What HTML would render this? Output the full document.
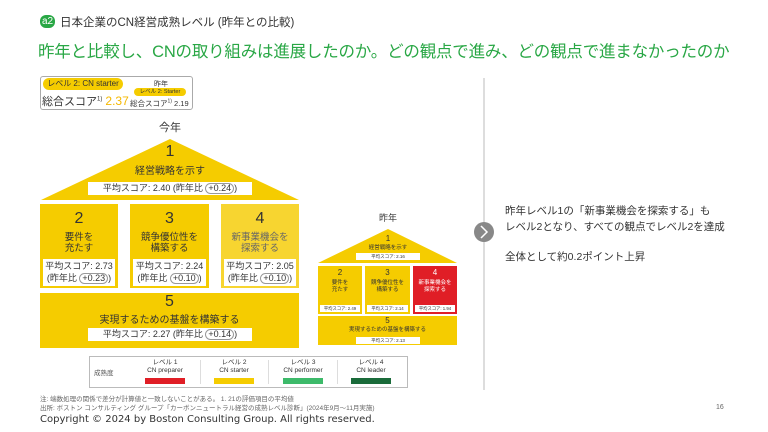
<!DOCTYPE html>
<html><head><meta charset="utf-8"><style>
*{margin:0;padding:0;box-sizing:border-box}
body{width:768px;height:432px;background:#fff;position:relative;overflow:hidden;font-family:"Liberation Sans","Noto Sans CJK JP",sans-serif;color:#333}
.a{position:absolute}
.y{background:#f5cc00}
.c{text-align:center}
.wb{background:#fff;position:absolute;text-align:center;color:#333}
.pill{display:inline-block;border:1px solid #999;border-radius:6px;padding:0 2px;font-size:inherit;line-height:1}
</style></head><body>
<div class="a" style="left:40px;top:15px;width:15px;height:13px;border-radius:6px;background:#29a745;color:#fff;font-size:10px;line-height:13px;text-align:center">a2</div>
<div class="a" style="left:60px;top:14px;font-size:11.5px;color:#333">日本企業のCN経営成熟レベル (昨年との比較)</div>
<div class="a" style="left:38px;top:38px;font-size:16.5px;color:#29a745;white-space:nowrap;letter-spacing:-0.2px">昨年と比較し、CNの取り組みは進展したのか。どの観点で進み、どの観点で進まなかったのか</div>

<div class="a" style="left:40px;top:76px;width:153px;height:34px;border:1px solid #aaa;border-radius:3px"></div>
<div class="a" style="left:43px;top:78px;width:80px;height:12px;border-radius:6px;background:#f5cc00;font-size:8px;line-height:12px;text-align:center;white-space:nowrap">レベル 2: CN starter</div>
<div class="a" style="left:42px;top:93px;font-size:11px;white-space:nowrap">総合スコア<sup style="font-size:6px">1)</sup> <span style="color:#f5b800;font-size:12px">2.37</span></div>
<div class="a c" style="left:133px;top:79px;width:56px;font-size:7px">昨年</div>
<div class="a" style="left:134px;top:88px;width:52px;height:8px;border-radius:4px;background:#f5cc00;font-size:5.5px;line-height:8px;text-align:center">レベル 2: Starter</div>
<div class="a" style="left:130px;top:98px;font-size:7.5px;white-space:nowrap">総合スコア<sup style="font-size:5px">1)</sup> 2.19</div>

<div class="a c" style="left:140px;top:119px;width:60px;font-size:11px">今年</div>
<svg class="a" style="left:0;top:0" width="768" height="432">
<polygon points="170,139 299,200 41,200" fill="#f5cc00"/>
<polygon points="388,229 457,263 318,263" fill="#f5cc00"/>
<line x1="484" y1="78" x2="484" y2="390" stroke="#bbb" stroke-width="1"/>
<circle cx="484" cy="232" r="10" fill="#888"/>
<polyline points="481,226 487,232 481,238" fill="none" stroke="#fff" stroke-width="1.5"/>
</svg>
<div class="a c" style="left:120px;top:143px;width:100px;font-size:16px">1</div>
<div class="a c" style="left:100px;top:162px;width:140px;font-size:10px">経営戦略を示す</div>
<div class="wb" style="left:88px;top:182px;width:164px;height:13px;font-size:9px;line-height:13px">平均スコア: 2.40 (昨年比 <span class="pill">+0.24</span>)</div>

<div class="a y" style="left:40px;top:204px;width:78px;height:84px"></div>
<div class="a y" style="left:130px;top:204px;width:79px;height:84px"></div>
<div class="a" style="left:221px;top:204px;width:78px;height:84px;background:#f7d530"></div>
<div class="a c" style="left:40px;top:210px;width:78px;font-size:16px">2</div>
<div class="a c" style="left:40px;top:232px;width:78px;font-size:9.5px;line-height:11px">要件を<br>充たす</div>
<div class="a c" style="left:130px;top:210px;width:79px;font-size:16px">3</div>
<div class="a c" style="left:130px;top:232px;width:79px;font-size:9.5px;line-height:11px">競争優位性を<br>構築する</div>
<div class="a c" style="left:221px;top:210px;width:78px;font-size:16px">4</div>
<div class="a c" style="left:221px;top:232px;width:78px;font-size:9.5px;line-height:11px;color:#666">新事業機会を<br>探索する</div>
<div class="wb" style="left:43px;top:259px;width:72px;height:27px;font-size:9px;line-height:12px;padding-top:1px">平均スコア: 2.73<br>(昨年比 <span class="pill">+0.23</span>)</div>
<div class="wb" style="left:133px;top:259px;width:73px;height:27px;font-size:9px;line-height:12px;padding-top:1px">平均スコア: 2.24<br>(昨年比 <span class="pill">+0.10</span>)</div>
<div class="wb" style="left:224px;top:259px;width:72px;height:27px;font-size:9px;line-height:12px;padding-top:1px">平均スコア: 2.05<br>(昨年比 <span class="pill">+0.10</span>)</div>

<div class="a y" style="left:40px;top:293px;width:259px;height:55px"></div>
<div class="a c" style="left:40px;top:293px;width:259px;font-size:16px">5</div>
<div class="a c" style="left:40px;top:311px;width:259px;font-size:10px">実現するための基盤を構築する</div>
<div class="wb" style="left:88px;top:328px;width:164px;height:13px;font-size:9px;line-height:13px">平均スコア: 2.27 (昨年比 <span class="pill">+0.14</span>)</div>

<div class="a c" style="left:360px;top:211px;width:56px;font-size:9px">昨年</div>
<div class="a c" style="left:370px;top:234px;width:36px;font-size:8px">1</div>
<div class="a c" style="left:340px;top:243px;width:96px;font-size:5.5px">経営戦略を示す</div>
<div class="wb" style="left:356px;top:253px;width:64px;height:7px;font-size:4.5px;line-height:7px">平均スコア: 2.16</div>
<div class="a y" style="left:318px;top:266px;width:44px;height:48px"></div>
<div class="a y" style="left:365px;top:266px;width:45px;height:48px"></div>
<div class="a" style="left:413px;top:266px;width:44px;height:48px;background:#e01e26"></div>
<div class="a c" style="left:318px;top:268px;width:44px;font-size:8px">2</div>
<div class="a c" style="left:318px;top:280px;width:44px;font-size:5.5px;line-height:7px">要件を<br>充たす</div>
<div class="a c" style="left:365px;top:268px;width:45px;font-size:8px">3</div>
<div class="a c" style="left:365px;top:280px;width:45px;font-size:5.5px;line-height:7px">競争優位性を<br>構築する</div>
<div class="a c" style="left:413px;top:268px;width:44px;font-size:8px;color:#fff">4</div>
<div class="a c" style="left:413px;top:280px;width:44px;font-size:5.5px;line-height:7px;color:#fff">新事業機会を<br>探索する</div>
<div class="wb" style="left:320px;top:305px;width:40px;height:7px;font-size:4.3px;line-height:7px">平均スコア: 2.49</div>
<div class="wb" style="left:367px;top:305px;width:41px;height:7px;font-size:4.3px;line-height:7px">平均スコア: 2.14</div>
<div class="wb" style="left:415px;top:305px;width:40px;height:7px;font-size:4.3px;line-height:7px">平均スコア: 1.94</div>
<div class="a y" style="left:318px;top:316px;width:139px;height:29px"></div>
<div class="a c" style="left:318px;top:316px;width:139px;font-size:8px">5</div>
<div class="a c" style="left:318px;top:325px;width:139px;font-size:5.5px">実現するための基盤を構築する</div>
<div class="wb" style="left:356px;top:337px;width:64px;height:7px;font-size:4.5px;line-height:7px">平均スコア: 2.13</div>

<div class="a" style="left:89px;top:356px;width:319px;height:32px;border:1px solid #bbb"></div>
<div class="a" style="left:94px;top:367px;font-size:6.5px;color:#555">成熟度</div>
<div class="a" style="left:200px;top:360px;width:1px;height:24px;background:#ddd"></div>
<div class="a" style="left:268px;top:360px;width:1px;height:24px;background:#ddd"></div>
<div class="a" style="left:337px;top:360px;width:1px;height:24px;background:#ddd"></div>
<div class="a c" style="left:135px;top:359px;width:60px;font-size:6.5px;line-height:8px">レベル 1<br>CN preparer</div>
<div class="a" style="left:145px;top:378px;width:40px;height:6px;background:#e01e26"></div>
<div class="a c" style="left:204px;top:359px;width:60px;font-size:6.5px;line-height:8px">レベル 2<br>CN starter</div>
<div class="a" style="left:214px;top:378px;width:40px;height:6px;background:#f5cc00"></div>
<div class="a c" style="left:272px;top:359px;width:62px;font-size:6.5px;line-height:8px">レベル 3<br>CN performer</div>
<div class="a" style="left:283px;top:378px;width:40px;height:6px;background:#3dba6a"></div>
<div class="a c" style="left:341px;top:359px;width:60px;font-size:6.5px;line-height:8px">レベル 4<br>CN leader</div>
<div class="a" style="left:351px;top:378px;width:40px;height:6px;background:#1a6b3a"></div>

<div class="a" style="left:40px;top:396px;font-size:6.5px;color:#666;line-height:8.5px;white-space:nowrap">注: 端数処理の関係で差分が計算値と一致しないことがある。 1. 21の評価項目の平均値<br>出所: ボストン コンサルティング グループ「カーボンニュートラル経営の成熟レベル診断」(2024年9月～11月実施)</div>
<div class="a" style="left:40px;top:414px;font-size:10px;color:#333;font-family:'DejaVu Sans',sans-serif;white-space:nowrap">Copyright © 2024 by Boston Consulting Group. All rights reserved.</div>
<div class="a" style="left:716px;top:404px;font-size:7px;color:#666">16</div>

<div class="a" style="left:505px;top:203px;font-size:10.5px;line-height:16px;color:#333;white-space:nowrap">昨年レベル1の「新事業機会を探索する」も<br>レベル2となり、すべての観点でレベル2を達成</div>
<div class="a" style="left:505px;top:249px;font-size:10.5px;color:#333">全体として約0.2ポイント上昇</div>
</body></html>
